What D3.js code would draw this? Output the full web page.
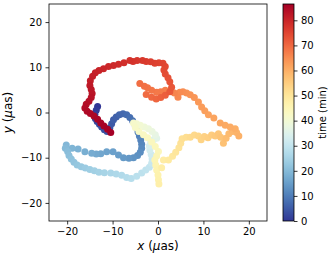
<!DOCTYPE html>
<html>
<head>
<meta charset="utf-8">
<script src="https://cdn.jsdelivr.net/npm/d3@7"></script>
<style>
  body { margin: 0; background: #fff; }
  text { font-family: "DejaVu Sans", sans-serif; fill: #000; }
</style>
</head>
<body>
<div id="chart"></div>
<script>
// time of each sample (min)
var times = [
  0, 0.5, 1, 1.5, 2, 2.5, 3, 3.5, 4, 4.5, 5, 5.5, 6, 6.5, 7, 7.5, 8, 8.5, 9, 9.5,
  10, 10.5, 11, 11.5, 12, 12.5, 13, 13.5, 14, 14.5, 15, 15.5, 16, 16.5, 17, 17.5, 18, 18.5, 19, 19.5,
  20, 20.5, 21, 21.5, 22, 22.5, 23, 23.5, 24, 24.5, 25, 25.5, 26, 26.5, 27, 27.5, 28, 28.5, 29, 29.5,
  30, 30.75, 31.5, 32.25, 33, 33.75, 34.5, 35.25, 36, 37, 37.75, 38.5, 39.25, 40, 40.75, 41.5, 42, 42.4, 42.8, 43.2,
  43.6, 44, 44.4, 44.8, 45.2, 45.6, 46, 46.4, 46.8, 47.2, 47.7, 48.2, 48.7, 49.2, 49.7, 50.2, 50.7, 51.2, 51.7, 52.2,
  52.7, 53.2, 53.7, 54.2, 54.7, 55.2, 55.7, 56.2, 56.7, 57.2, 57.7, 58.2, 58.7, 59.2, 59.7, 60, 60.4, 60.8, 61.2, 61.6,
  62, 62.4, 62.8, 63.2, 63.6, 64, 64.4, 64.8, 65.2, 65.6, 66, 66.4, 66.8, 67.2, 67.6, 68, 68.4, 68.8, 69.2, 69.6,
  70, 70.4, 70.8, 71.2, 72, 72.4, 72.8, 73.2, 73.6, 74, 74.4, 74.8, 75.2, 75.6, 76, 76.4, 76.8, 77.2, 77.6, 78,
  78.4, 78.8, 79.2, 79.6, 80, 80.4, 80.8, 81.2, 81.6, 82, 82.4, 82.8, 83.2, 83.6, 84, 84.4, 84.7, 85, 85.3, 85.6,
  85.9, 86.1, 86.3, 86.5
];

// x offset (µas)
var xVals = [
  -13.3, -13.6, -13.9, -13.8, -13.4, -12.9, -12.4, -11.8, -11.2, -10.6, -10.2, -9.8, -9.2, -8.5, -7.7, -6.9, -6.2, -5.6, -5.1, -4.7,
  -4.4, -4.1, -3.8, -3.6, -3.6, -3.9, -4.5, -5.4, -6.4, -7.6, -8.7, -9.9, -11.3, -12.6, -13.6, -14.6, -16.1, -17.6, -18.9, -20.2,
  -20.4, -19.9, -19.6, -19.1, -18.5, -17.8, -16.9, -16.0, -15.0, -14.0, -13.0, -11.8, -10.4, -9.2, -8.0, -6.9, -5.9, -4.7, -3.6, -2.7,
  -1.9, -1.4, -1.3, -1.5, -1.8, -1.9, -1.6, -1.0, -0.3, -0.6, -1.3, -2.1, -3.0, -3.9, -4.7, -5.4, -5.0, -4.2, -3.2, -2.3,
  -1.4, -0.6, 0.1, -0.3, -0.7, -0.5, -0.3, 0.0, 0.1, 0.2, 0.8, 1.2, 2.3, 3.2, 3.9, 4.6, 5.0, 5.3, 6.2, 7.1,
  8.0, 8.9, 9.5, 10.2, 11.0, 11.8, 12.6, 13.3, 13.8, 14.4, 15.0, 15.6, 16.4, 17.3, 17.8, 17.0, 15.9, 14.8, 13.7, 12.3,
  11.1, 10.3, 9.6, 8.9, 8.0, 7.1, 6.3, 5.5, 4.8, 4.4, 3.6, 2.6, 1.6, 0.6, -0.3, -1.4, -2.3, -3.0, -4.0, -2.6,
  -1.4, -0.4, 0.6, 1.6, 2.6, 3.0, 2.6, 2.2, 1.6, 1.3, 1.6, 1.1, 0.2, -0.7, -1.6, -2.6, -3.4, -4.6, -5.5, -6.2,
  -7.5, -8.7, -9.8, -10.9, -12.0, -13.0, -13.8, -14.4, -14.9, -15.0, -14.7, -14.5, -14.7, -15.2, -15.8, -16.1, -15.6, -14.9, -14.1, -13.3,
  -12.6, -11.9, -11.1, -10.4
];

// y offset (µas)
var yVals = [
  1.3, 0.5, -0.4, -1.3, -2.0, -2.6, -3.2, -3.8, -4.2, -3.4, -2.5, -1.6, -1.0, -0.5, -0.3, -0.5, -1.1, -1.8, -2.6, -3.4,
  -4.3, -5.2, -6.1, -7.0, -7.9, -8.8, -9.5, -10.0, -10.1, -10.0, -9.4, -8.7, -8.7, -9.1, -9.2, -9.0, -8.7, -8.1, -7.9, -7.2,
  -7.9, -8.6, -9.5, -10.3, -11.0, -11.6, -12.0, -12.3, -12.6, -12.9, -13.2, -13.3, -13.4, -13.6, -13.9, -14.4, -14.6, -14.1, -13.4, -12.7,
  -12.1, -11.2, -10.3, -9.3, -8.3, -7.4, -6.6, -6.0, -5.7, -4.9, -4.2, -3.6, -3.2, -2.8, -2.5, -2.3, -3.3, -4.2, -4.9, -5.6,
  -6.5, -7.5, -8.6, -9.6, -10.5, -11.6, -12.7, -13.8, -14.9, -15.8, -12.2, -10.5, -10.5, -9.7, -8.8, -7.8, -6.8, -5.8, -5.5, -5.5,
  -5.0, -5.2, -6.0, -5.3, -5.6, -5.0, -5.2, -4.7, -5.5, -6.8, -5.7, -4.7, -4.2, -4.4, -5.2, -3.6, -3.2, -2.8, -2.3, -1.2,
  -0.5, 0.4, 1.2, 2.3, 3.3, 3.9, 4.3, 4.6, 4.5, 3.4, 4.3, 4.8, 4.9, 4.6, 4.5, 4.9, 5.5, 5.8, 6.4, 4.0,
  3.4, 3.0, 3.3, 3.8, 4.6, 5.6, 6.8, 7.7, 8.5, 9.4, 10.2, 10.9, 11.0, 10.9, 11.2, 11.3, 11.5, 11.5, 11.3, 11.5,
  11.0, 10.7, 10.4, 10.2, 9.7, 9.3, 8.8, 8.0, 7.0, 6.0, 5.1, 4.2, 3.3, 2.5, 1.8, 1.0, 0.3, -0.2, -0.8, -1.5,
  -2.3, -3.0, -3.7, -4.4
];

var xTicks = [-20, -10, 0, 10, 20];
var yTicks = [-20, -10, 0, 10, 20];
var cbTicks = [0, 10, 20, 30, 40, 50, 60, 70, 80];

var width = 332, height = 259;
var plot = { left: 49, top: 4, width: 218, height: 217 };
var cbar = { left: 283, top: 4, width: 11, height: 217 };

var svg = d3.select("#chart").append("svg")
    .attr("width", width)
    .attr("height", height);

var xScale = d3.scaleLinear().domain([-24, 24]).range([0, plot.width]);
var yScale = d3.scaleLinear().domain([-24, 24]).range([plot.height, 0]);

var tMax = d3.max(times);
var color = d3.scaleSequential(function (u) { return d3.interpolateRdYlBu(1 - u); })
    .domain([0, tMax]);

var fmt = function (d) { return d < 0 ? "\u2212" + Math.abs(d) : String(d); };

var g = svg.append("g")
    .attr("transform", `translate(${plot.left}, ${plot.top})`);

// points, drawn in time order so later ones sit on top
var pts = times.map(function (t, i) { return { t: t, x: xVals[i], y: yVals[i] }; });
g.selectAll("circle")
    .data(pts)
    .enter()
    .append("circle")
    .attr("cx", d => xScale(d.x))
    .attr("cy", d => yScale(d.y))
    .attr("r", 3.5)
    .attr("fill", d => color(d.t));

// axes
var xAxis = g.append("g")
    .attr("transform", `translate(0, ${plot.height})`)
    .call(d3.axisBottom(xScale).tickValues(xTicks).tickFormat(fmt).tickSizeInner(3.5).tickSizeOuter(0).tickPadding(3.5));
var yAxis = g.append("g")
    .call(d3.axisLeft(yScale).tickValues(yTicks).tickFormat(fmt).tickSizeInner(3.5).tickSizeOuter(0).tickPadding(3.5));
[xAxis, yAxis].forEach(function (a) {
    a.select(".domain").remove();
    a.selectAll("text").style("font-size", "10px").attr("fill", "#000");
    a.selectAll("line").attr("stroke", "#000").attr("stroke-width", 0.8);
});

// frame
g.append("rect")
    .attr("width", plot.width)
    .attr("height", plot.height)
    .attr("fill", "none")
    .attr("stroke", "#000")
    .attr("stroke-width", 0.8);

// axis labels
svg.append("text")
    .attr("x", plot.left + plot.width / 2)
    .attr("y", 250)
    .attr("text-anchor", "middle")
    .style("font-size", "12px")
    .html('<tspan font-style="italic">x</tspan> (<tspan font-style="italic">μ</tspan>as)');

svg.append("text")
    .attr("transform", `translate(12, ${plot.top + plot.height / 2}) rotate(-90)`)
    .attr("text-anchor", "middle")
    .style("font-size", "12px")
    .html('<tspan font-style="italic">y</tspan> (<tspan font-style="italic">μ</tspan>as)');

// colorbar
var defs = svg.append("defs");
var grad = defs.append("linearGradient")
    .attr("id", "cbgrad")
    .attr("x1", 0).attr("y1", 1).attr("x2", 0).attr("y2", 0);
d3.range(0, 1.0001, 0.02).forEach(function (u) {
    grad.append("stop")
        .attr("offset", u)
        .attr("stop-color", color(u * tMax));
});

var cb = svg.append("g")
    .attr("transform", `translate(${cbar.left}, ${cbar.top})`);
cb.append("rect")
    .attr("width", cbar.width)
    .attr("height", cbar.height)
    .attr("fill", "url(#cbgrad)")
    .attr("stroke", "#000")
    .attr("stroke-width", 0.8);

var cbScale = d3.scaleLinear().domain([0, tMax]).range([cbar.height, 0]);
var cbAxis = cb.append("g")
    .attr("transform", `translate(${cbar.width}, 0)`)
    .call(d3.axisRight(cbScale).tickValues(cbTicks).tickSizeInner(3.5).tickSizeOuter(0).tickPadding(3.5));
cbAxis.select(".domain").remove();
cbAxis.selectAll("text").style("font-size", "10px").attr("fill", "#000");
cbAxis.selectAll("line").attr("stroke", "#000").attr("stroke-width", 0.8);

svg.append("text")
    .attr("transform", `translate(326, ${cbar.top + cbar.height / 2}) rotate(-90)`)
    .attr("text-anchor", "middle")
    .style("font-size", "10px")
    .text("time (min)");
</script>
</body>
</html>
